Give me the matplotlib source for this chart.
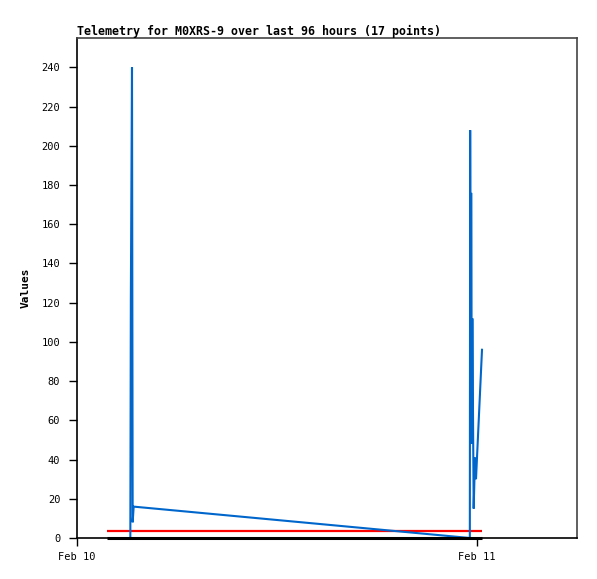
import matplotlib
matplotlib.use("Agg")
import matplotlib.pyplot as plt
import matplotlib.dates as mdates
from datetime import datetime, timedelta

base = datetime(2024, 2, 10)

# hours since Feb 10 00:00
blue_hours = [3.20, 3.23, 3.30, 3.34, 3.40, 23.57, 23.59, 23.63, 23.65, 23.69,
              23.72, 23.80, 23.88, 23.94, 24.30]
blue_values = [0, 121, 240, 8, 16, 0, 208, 48, 176, 48,
               112, 15, 41, 30, 96]

ref_hours = [1.8, 24.3]
red_values = [3.8, 3.8]
black_values = [0, 0]

title = "Telemetry for M0XRS-9 over last 96 hours (17 points)"
ylabel = "Values"
yticks = list(range(0, 241, 20))
xtick_days = [0, 1]

def to_dt(hs):
    return [base + timedelta(hours=h) for h in hs]

fig = plt.figure(figsize=(5.97, 5.79), dpi=100)
ax = fig.add_axes([77/597, 1 - 538/579, 500/597, 500/579])

mono = "DejaVu Sans Mono"
ax.plot(to_dt(ref_hours), red_values, color="#ff0000", lw=1.6, zorder=2,
        solid_capstyle="butt")
ax.plot(to_dt(blue_hours), blue_values, color="#0066cc", lw=1.5, zorder=3,
        solid_joinstyle="miter")
ax.plot(to_dt(ref_hours), black_values, color="#000000", lw=2.2, zorder=4,
        solid_capstyle="butt", clip_on=False)

ax.set_xlim(base, base + timedelta(hours=30))
ax.set_ylim(0, 255)
ax.set_yticks(yticks)
ax.set_xticks([base + timedelta(days=d) for d in xtick_days])
ax.xaxis.set_major_formatter(mdates.DateFormatter("%b %d"))

ax.tick_params(axis="both", direction="out", length=6, width=1, color="black",
               labelsize=7.5, pad=6)
for lbl in ax.get_xticklabels() + ax.get_yticklabels():
    lbl.set_fontfamily(mono)
ax.tick_params(axis="x", pad=4)

for side in ["top", "right"]:
    ax.spines[side].set_color("#444444")
    ax.spines[side].set_linewidth(1.2)
for side in ["left", "bottom"]:
    ax.spines[side].set_color("black")
    ax.spines[side].set_linewidth(1.2)

ax.set_ylabel(ylabel, fontfamily=mono, fontweight="bold", fontsize=8, labelpad=8)
fig.text(77/597, 1 - 31/579, title, fontfamily=mono, fontweight="bold",
         fontsize=8.35, ha="left", va="center")

fig.savefig("out.png", dpi=100)
